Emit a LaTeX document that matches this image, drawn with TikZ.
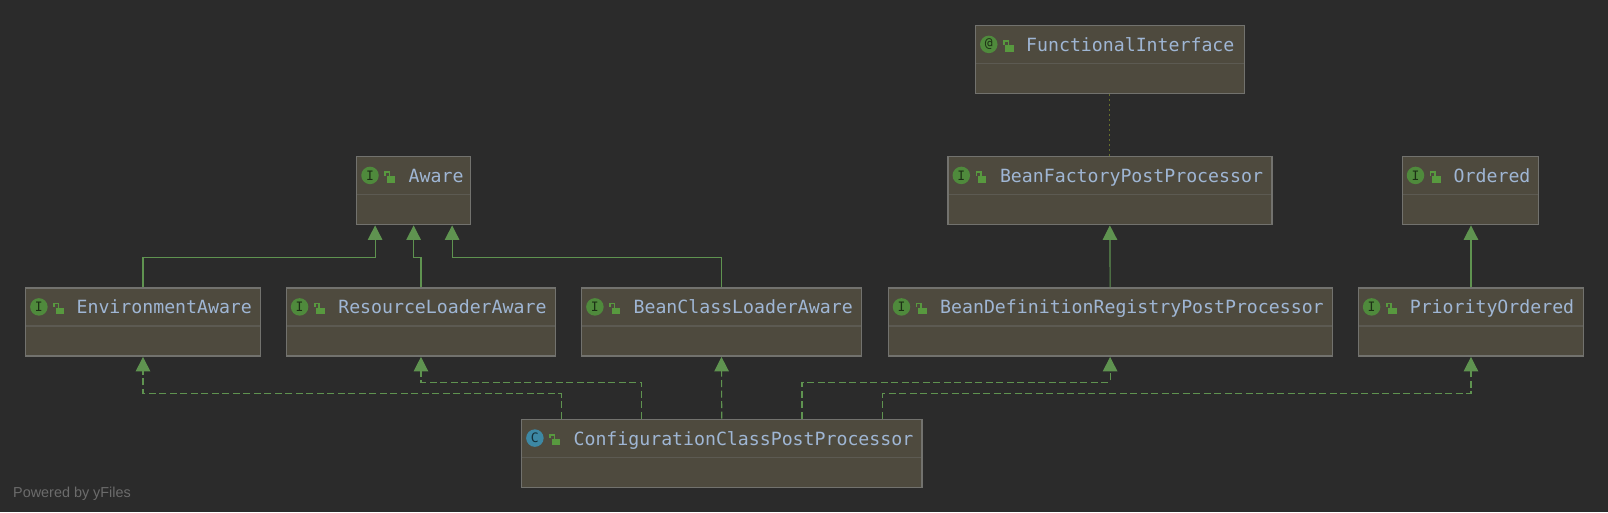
\documentclass[tikz,border=0pt]{standalone}
\usepackage{fontspec}
\setmainfont{Liberation Sans}
\newfontfamily\codefont{DejaVu Sans Mono}
\usetikzlibrary{arrows.meta,positioning}
\definecolor{canvas}{HTML}{2B2B2B}
\definecolor{boxfill}{HTML}{4E4A3E}
\definecolor{boxline}{HTML}{72726E}
\definecolor{headline}{HTML}{5C5A52}
\definecolor{titlecol}{HTML}{9FB6D4}
\definecolor{relation}{HTML}{5F9350}
\definecolor{metaline}{HTML}{666F2C}
\definecolor{igreen}{HTML}{4F8A3C}
\definecolor{lockgreen}{HTML}{58993F}
\definecolor{cblue}{HTML}{3D88A4}
\definecolor{greytext}{HTML}{6C6C6C}
\tikzset{
    box/.style = {rectangle,
                    anchor=north west,
                    fill=boxfill,
                    draw=boxline,
                    line width=1.2pt,
                    inner sep=0pt,
                    minimum height=68pt,
                    path picture={
                        \draw[headline,line width=1.2pt]
                            ([yshift=-38pt]path picture bounding box.north west) --
                            ([yshift=-38pt]path picture bounding box.north east);
                        \fill[lockgreen] ([shift={(30pt,-19.5pt)}]path picture bounding box.north west)
                            rectangle ([shift={(38.5pt,-26pt)}]path picture bounding box.north west);
                        \draw[lockgreen,line width=1.6pt]
                            ([shift={(33pt,-19.5pt)}]path picture bounding box.north west) --
                            ([shift={(33pt,-15.5pt)}]path picture bounding box.north west) --
                            ([shift={(28.5pt,-15.5pt)}]path picture bounding box.north west) --
                            ([shift={(28.5pt,-19pt)}]path picture bounding box.north west);
                    }},
    title/.style = {anchor=base west,
                    inner sep=0pt,
                    text=titlecol,
                    font=\codefont\fontsize{18.2pt}{20pt}\selectfont},
    icon/.style = {circle,
                    inner sep=0pt,
                    minimum size=17.5pt,
                    text=black!65!igreen,
                    fill=igreen,
                    font=\codefont\fontsize{13pt}{14pt}\selectfont},
    cicon/.style = {icon,
                    fill=cblue,
                    text=black!65!cblue},
    extends/.style = {draw=relation,
                    line width=1.1pt,
                    -{Triangle[length=14.5pt,width=14.5pt,fill=relation]},
                    shorten >=0.3pt},
    implements/.style = {extends,
                    dash pattern=on 7pt off 3.5pt},
    meta/.style = {draw=metaline,
                    line width=1pt,
                    dash pattern=on 1.5pt off 3.5pt},
}
\begin{document}
\begin{tikzpicture}[x=1pt,y=-1pt]
    \fill[canvas] (0,0) rectangle (1608,512);
    \useasboundingbox (0,0) rectangle (1608,512);
    % top row
    \node[box,minimum width=269pt] (FunctionalInterface) at (974.8,24.9) {};
    \node[box,minimum width=114pt] (Aware) at (356,155.9) {};
    \node[box,minimum width=324pt] (BeanFactoryPostProcessor) at (947.3,155.9) {};
    \node[box,minimum width=136pt] (Ordered) at (1401.5,155.9) {};
    % middle row
    \node[box,minimum width=235pt] (EnvironmentAware) at (24.9,287.4) {};
    \node[box,minimum width=269.5pt] (ResourceLoaderAware) at (285.6,287.4) {};
    \node[box,minimum width=280pt] (BeanClassLoaderAware) at (580.9,287.4) {};
    \node[box,minimum width=444pt] (BeanDefinitionRegistryPostProcessor) at (887.5,287.4) {};
    \node[box,minimum width=225.5pt] (PriorityOrdered) at (1357.6,287.4) {};
    % bottom row
    \node[box,minimum width=400.5pt] (ConfigurationClassPostProcessor) at (520.9,418.6) {};
    % icons
    \node[icon] (FunctionalInterfaceIcon) at ([shift={(14pt,-19.5pt)}]FunctionalInterface.north west) {@};
    \node[icon] (AwareIcon) at ([shift={(14pt,-19.5pt)}]Aware.north west) {I};
    \node[icon] (BeanFactoryPostProcessorIcon) at ([shift={(14pt,-19.5pt)}]BeanFactoryPostProcessor.north west) {I};
    \node[icon] (OrderedIcon) at ([shift={(14pt,-19.5pt)}]Ordered.north west) {I};
    \node[icon] (EnvironmentAwareIcon) at ([shift={(14pt,-19.5pt)}]EnvironmentAware.north west) {I};
    \node[icon] (ResourceLoaderAwareIcon) at ([shift={(14pt,-19.5pt)}]ResourceLoaderAware.north west) {I};
    \node[icon] (BeanClassLoaderAwareIcon) at ([shift={(14pt,-19.5pt)}]BeanClassLoaderAware.north west) {I};
    \node[icon] (BeanDefinitionRegistryPostProcessorIcon) at ([shift={(14pt,-19.5pt)}]BeanDefinitionRegistryPostProcessor.north west) {I};
    \node[icon] (PriorityOrderedIcon) at ([shift={(14pt,-19.5pt)}]PriorityOrdered.north west) {I};
    \node[cicon] (ConfigurationClassPostProcessorIcon) at ([shift={(14pt,-19.5pt)}]ConfigurationClassPostProcessor.north west) {C};
    % titles
    \node[title] (FunctionalInterfaceTitle) at ([shift={(51.2pt,-26.5pt)}]FunctionalInterface.north west) {FunctionalInterface};
    \node[title] (AwareTitle) at ([shift={(52.5pt,-26.5pt)}]Aware.north west) {Aware};
    \node[title] (BeanFactoryPostProcessorTitle) at ([shift={(52.5pt,-26.5pt)}]BeanFactoryPostProcessor.north west) {BeanFactoryPostProcessor};
    \node[title] (OrderedTitle) at ([shift={(52pt,-26.5pt)}]Ordered.north west) {Ordered};
    \node[title] (EnvironmentAwareTitle) at ([shift={(51.5pt,-26.5pt)}]EnvironmentAware.north west) {EnvironmentAware};
    \node[title] (ResourceLoaderAwareTitle) at ([shift={(52.5pt,-26.5pt)}]ResourceLoaderAware.north west) {ResourceLoaderAware};
    \node[title] (BeanClassLoaderAwareTitle) at ([shift={(52.5pt,-26.5pt)}]BeanClassLoaderAware.north west) {BeanClassLoaderAware};
    \node[title] (BeanDefinitionRegistryPostProcessorTitle) at ([shift={(52.5pt,-26.5pt)}]BeanDefinitionRegistryPostProcessor.north west) {BeanDefinitionRegistryPostProcessor};
    \node[title] (PriorityOrderedTitle) at ([shift={(52pt,-26.5pt)}]PriorityOrdered.north west) {PriorityOrdered};
    \node[title] (ConfigurationClassPostProcessorTitle) at ([shift={(52.5pt,-26.5pt)}]ConfigurationClassPostProcessor.north west) {ConfigurationClassPostProcessor};
    \node[anchor=base west,inner sep=0pt,text=greytext,font=\fontsize{14.4pt}{16pt}\selectfont] (poweredby) at (13,497.5) {Powered by yFiles};
    % connectors
    \path[meta] (FunctionalInterface.south) -- (BeanFactoryPostProcessor.north);
    \path[extends] (BeanDefinitionRegistryPostProcessor.north) -- (BeanFactoryPostProcessor.south);
    \path[extends] (PriorityOrdered.north) -- (Ordered.south -| PriorityOrdered.north);
    \path[extends] (EnvironmentAware.north) |- ([shift={(-38.5pt,-32pt)}]Aware.south) -- ([xshift=-38.5pt]Aware.south);
    \path[extends] (ResourceLoaderAware.north) |- ([yshift=-32pt]Aware.south) -- (Aware.south);
    \path[extends] (BeanClassLoaderAware.north) |- ([shift={(38.5pt,-32pt)}]Aware.south) -- ([xshift=38.5pt]Aware.south);
    \path[implements] ([xshift=-160.4pt]ConfigurationClassPostProcessor.north) |- ([yshift=-37pt]EnvironmentAware.south) -- (EnvironmentAware.south);
    \path[implements] ([xshift=-80.2pt]ConfigurationClassPostProcessor.north) |- ([yshift=-25.5pt]ResourceLoaderAware.south) -- (ResourceLoaderAware.south);
    \path[implements] (ConfigurationClassPostProcessor.north) -- (BeanClassLoaderAware.south);
    \path[implements] ([xshift=80.2pt]ConfigurationClassPostProcessor.north) |- ([yshift=-25.5pt]BeanDefinitionRegistryPostProcessor.south) -- (BeanDefinitionRegistryPostProcessor.south);
    \path[implements] ([xshift=160.4pt]ConfigurationClassPostProcessor.north) |- ([yshift=-37pt]PriorityOrdered.south) -- (PriorityOrdered.south);
\end{tikzpicture}
\end{document}
